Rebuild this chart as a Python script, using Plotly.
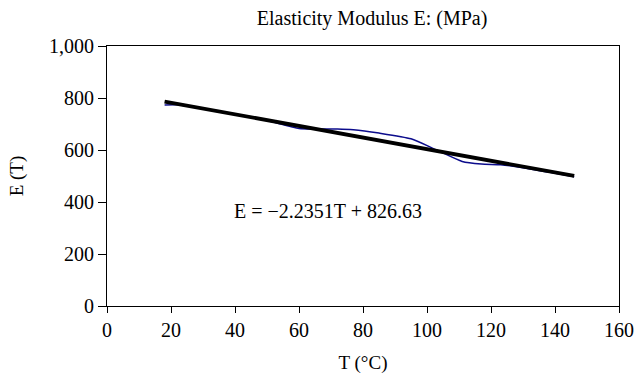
import plotly.graph_objects as go

# Measured data (T in °C, E in MPa)
T_data = [18, 22, 30, 40, 50, 60, 65, 72, 77, 85, 95, 103, 111, 117, 123, 130, 138, 146]
E_data = [773, 774, 760, 738, 713, 683, 681, 681, 678, 665, 643, 600, 556, 546, 543, 532, 515, 497]

# Linear trendline endpoints
fit_T = [18, 146]
fit_E = [786.4, 500.3]

x_ticks = [0, 20, 40, 60, 80, 100, 120, 140, 160]
y_ticks = [0, 200, 400, 600, 800, 1000]

title_text = "Elasticity Modulus E: (MPa)"
eq_text = "E = \u22122.2351T + 826.63"

font_family = "Liberation Serif"

fig = go.Figure()
fig.add_trace(go.Scatter(x=T_data, y=E_data, mode="lines",
                         line=dict(color="#0c0c8c", width=1.5, shape="spline", smoothing=0.6),
                         showlegend=False, hoverinfo="skip"))
fig.add_trace(go.Scatter(x=fit_T, y=fit_E, mode="lines",
                         line=dict(color="black", width=3.8),
                         showlegend=False, hoverinfo="skip"))

fig.add_annotation(x=69, y=365, xref="x", yref="y", text=eq_text, showarrow=False,
                   font=dict(family=font_family, size=20, color="black"))

fig.update_layout(
    width=635, height=377,
    margin=dict(l=107, r=16, t=46, b=71),
    paper_bgcolor="white", plot_bgcolor="white",
    font=dict(family=font_family, size=20, color="black"),
    title=dict(text=title_text, x=0.586, xanchor="center", y=0.952, yanchor="middle",
               font=dict(family=font_family, size=20, color="black")),
    xaxis=dict(range=[0, 160], tickvals=x_ticks, showgrid=False, zeroline=False,
               showline=True, linecolor="black", linewidth=1, mirror=True,
               ticks="outside", ticklen=6, tickcolor="black", automargin=False,
               title=dict(text="T (\u00b0C)", standoff=15, font=dict(size=19))),
    yaxis=dict(range=[0, 1000], tickvals=y_ticks, tickformat=",d", showgrid=False, zeroline=False,
               showline=True, linecolor="black", linewidth=1, mirror=True,
               ticks="outside", ticklen=8, tickcolor="black", automargin=False,
               title=dict(text="E (T)", standoff=20, font=dict(size=19))),
)

fig.write_html("out.html")
